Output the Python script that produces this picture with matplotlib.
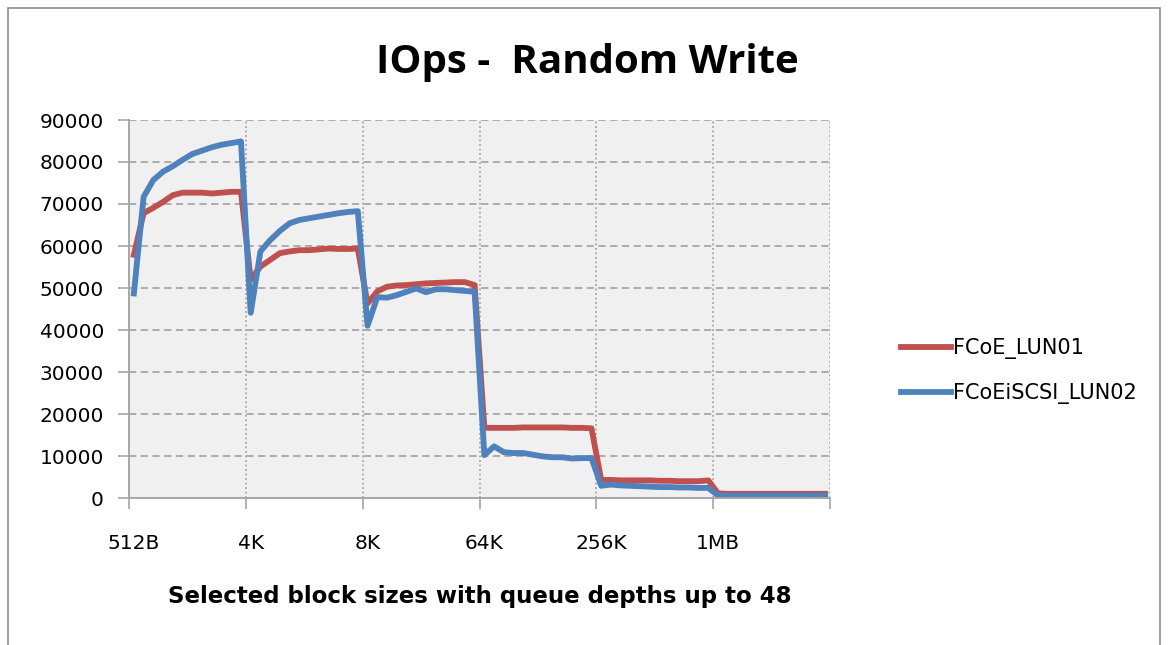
import numpy as np
import matplotlib
matplotlib.use("Agg")
import matplotlib.pyplot as plt
from matplotlib.patches import Rectangle

# block sizes, 12 queue depths each
block_labels = ["512B", "4K", "8K", "64K", "256K", "1MB"]
n_qd = 12

fcoe_lun01 = [
    57900, 67800, 69100, 70500, 72100, 72700, 72700, 72700, 72500, 72700, 72900, 72900,
    52000, 55100, 56700, 58300, 58700, 59000, 59000, 59200, 59400, 59300, 59300, 59400,
    46300, 49200, 50300, 50600, 50700, 50900, 51100, 51200, 51300, 51400, 51400, 50700,
    16700, 16700, 16700, 16700, 16800, 16800, 16800, 16800, 16800, 16700, 16700, 16600,
    4300, 4300, 4200, 4200, 4200, 4200, 4100, 4100, 4000, 4000, 4000, 4200,
    1100, 1000, 1000, 1000, 1000, 1000, 1000, 1000, 1000, 1000, 1000, 1000,
]
fcoe_iscsi_lun02 = [
    48700, 71700, 75700, 77700, 79000, 80500, 81900, 82700, 83500, 84100, 84500, 84900,
    44100, 58700, 61400, 63600, 65400, 66200, 66600, 67000, 67400, 67800, 68100, 68300,
    41000, 47800, 47700, 48300, 49100, 49900, 49000, 49700, 49700, 49500, 49300, 49100,
    10200, 12300, 10900, 10700, 10700, 10300, 9900, 9700, 9700, 9400, 9500, 9500,
    2900, 3200, 3000, 2900, 2800, 2700, 2600, 2600, 2500, 2500, 2400, 2400,
    600, 600, 600, 600, 600, 600, 600, 600, 600, 600, 600, 600,
]

red = "#C0504D"
blue = "#4F81BD"
grid_c = "#a6a6a6"

fig = plt.figure(figsize=(11.68, 6.45), dpi=100)
fig.patches.append(Rectangle((8 / 1168, -0.1), (1160 - 8) / 1168, 1.1 - 8 / 645,
                             transform=fig.transFigure, fill=False,
                             edgecolor="#8c8c8c", linewidth=1.2))

ax = fig.add_axes([129 / 1168, 1 - 498 / 645, (830 - 129) / 1168, (498 - 120) / 645])
ax.set_facecolor("#f0f0f0")

x = np.arange(len(fcoe_lun01))
ax.plot(x, fcoe_lun01, color=red, lw=4.2, label="FCoE_LUN01", solid_joinstyle="round")
ax.plot(x, fcoe_iscsi_lun02, color=blue, lw=4.2, label="FCoEiSCSI_LUN02", solid_joinstyle="round")

ax.set_xlim(-0.5, len(x) - 0.5)
ax.set_ylim(0, 90000)
ax.set_yticks(np.arange(0, 90001, 10000))
ax.set_xticks(np.arange(0, len(x), n_qd))
ax.set_xticklabels(block_labels)
bounds = np.arange(-0.5, len(x), n_qd)
ax.set_xticks(bounds, minor=True)
ax.tick_params(axis="x", which="major", length=0, pad=26, labelsize=14.5)
ax.tick_params(axis="x", which="minor", length=8, color=grid_c, width=1.2)
ax.tick_params(axis="y", length=8, color=grid_c, width=1.2, labelsize=14.5, pad=10)

for v in np.arange(10000, 90001, 10000):
    ax.axhline(v, color=grid_c, lw=1.3, ls=(0, (4, 2.5)), zorder=0)
for b in bounds[1:]:
    ax.axvline(b, color=grid_c, lw=1.3, ls=(0, (1, 1.5)), zorder=0)

for s in ["top", "right"]:
    ax.spines[s].set_visible(False)
for s in ["left", "bottom"]:
    ax.spines[s].set_color(grid_c)
    ax.spines[s].set_linewidth(1.4)

fig.text(587 / 1168, 1 - 62 / 645, "IOps -  Random Write", ha="center", va="center",
         fontsize=29, fontweight="bold", family="Open Sans")
fig.text(480 / 1168, 1 - 597 / 645, "Selected block sizes with queue depths up to 48",
         ha="center", va="center", fontsize=16.5, fontweight="bold")

ax.legend(loc="center left", bbox_to_anchor=(882 / 1168, 1 - 371 / 645),
          bbox_transform=fig.transFigure, frameon=False, fontsize=15,
          handlelength=2.4, handletextpad=0.1, labelspacing=1.15)

fig.savefig("out.png", dpi=100)
